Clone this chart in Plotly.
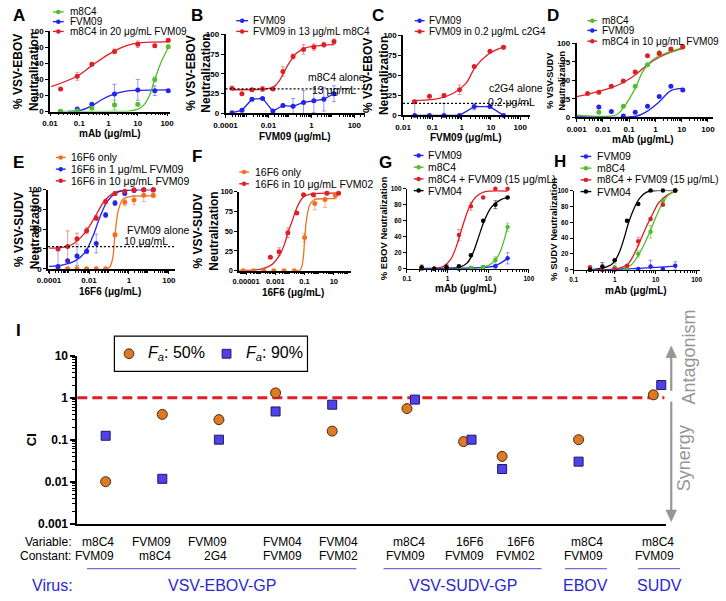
import plotly.graph_objects as go

W, H = 726, 601
FONT = "Arial, 'Liberation Sans', Helvetica, sans-serif"

GREEN = "rgb(80,190,45)"
BLUE = "rgb(35,35,240)"
RED = "rgb(222,32,38)"
ORANGE = "rgb(240,112,35)"
BLACK = "rgb(0,0,0)"
LIGHT = {GREEN: "rgba(80,190,45,0.55)", BLUE: "rgba(35,35,240,0.45)",
         RED: "rgba(222,32,38,0.45)", ORANGE: "rgba(240,112,35,0.5)", BLACK: "rgba(0,0,0,0.5)"}

# ---------------- Panel A (VSV-EBOV) ----------------
A_conc = [0.023, 0.085, 0.27, 1.6, 10, 38, 110]
A_m8c4 = [0, 1, 4, 8, 9, 40, 81]
A_m8c4_err = [0, 0, 0, 6, 2, 3, 2]
A_fvm09 = [0, 3, 9, 22, 27, 26, 26]
A_fvm09_err = [0, 0, 1, 12, 13, 6, 1]
A_mix = [28, 44, 59, 75, 84, 82, 89]
A_mix_err = [1, 5, 2, 3, 4, 2, 2]
A_m8c4_fit_x = [0.023, 1, 5, 10, 16, 25, 38, 60, 110]
A_m8c4_fit_y = [0, 0, 0.5, 3, 8, 20, 40, 60, 80]
A_fvm09_fit_x = [0.04, 0.1, 0.27, 0.6, 1.6, 4, 10, 110]
A_fvm09_fit_y = [0, 1, 7, 15, 22, 25.5, 26.5, 27]
A_mix_fit_x = [0.011, 0.083, 0.26, 1.07, 3.9, 13.5, 110]
A_mix_fit_y = [31, 44, 57, 72, 82, 86, 87]

# ---------------- Panel B ----------------
B_conc = [0.0002, 0.00058, 0.0017, 0.0053, 0.016, 0.047, 0.14, 0.43, 1.3, 3.8, 11.3]
B_fvm09 = [1, 4, 18, 19, 3, 10, 9, 14, 16, 18, 25]
B_fvm09_err = [0, 0, 0, 1, 0, 2, 10, 15, 15, 15, 10]
B_mix = [32, 25, 30, 31, 31, 53, 72, 81, 84, 87, 91]
B_mix_err = [1, 0, 1, 3, 2, 6, 3, 6, 4, 3, 3]
B_mix_fit_x = [0.0002, 0.002, 0.008, 0.018, 0.035, 0.06, 0.11, 0.2, 0.45, 1.3, 11.3]
B_mix_fit_y = [30, 30.2, 31, 34, 43, 55, 67, 76, 82, 85, 87]
B_alone = 31

# ---------------- Panel C ----------------
C_conc = [0.025, 0.08, 0.25, 0.85, 2.7, 9.3, 27]
C_fvm09 = [0, 0, 0, 0, 11, 11, 0]
C_fvm09_err = [15, 0, 15, 0, 4, 0, 0]
C_mix = [17, 24, 25, 32, 61, 80, 85]
C_mix_err = [2, 0, 2, 6, 1, 1, 2]
C_mix_fit_x = [0.02, 0.16, 0.54, 1.4, 2.9, 7.9, 18, 27]
C_mix_fit_y = [18.5, 21, 28, 40, 60, 76, 83, 85]
C_alone = 15

# ---------------- Panel D (VSV-SUDV) ----------------
D_conc = [0.0026, 0.007, 0.021, 0.06, 0.17, 0.5, 1.4, 3.9, 11]
D_m8c4 = [None, 7, None, 15, 42, 71, 87, 90, 95]
D_fvm09 = [None, 14, 8, 2, 7, 15, 28, 42, 37]
D_mix = [32, 34, 42, 49, 61, 83, 86, 92, 95]
D_m8c4_fit_x = [0.001, 0.033, 0.06, 0.17, 0.32, 0.65, 1.4, 3.9, 12]
D_m8c4_fit_y = [3, 3.5, 13, 39, 61, 75, 83, 89, 94]
D_fvm09_fit_x = [0.001, 0.18, 0.43, 1.4, 3.9, 11]
D_fvm09_fit_y = [1, 1.5, 7, 21, 36, 39]
D_mix_fit_x = [0.001, 0.0026, 0.021, 0.06, 0.17, 0.5, 1.4, 3.9, 12]
D_mix_fit_y = [28, 31, 40, 47, 57, 71, 81, 88, 93]

# ---------------- Panel E ----------------
E_conc = [0.00028, 0.00085, 0.0025, 0.0076, 0.023, 0.068, 0.2, 0.62, 1.8, 5.5, 16.6]
E_only = [0, 0, 0, 0, 0, 0, 43, 84, 87, 93, 93]
E_only_err = [0, 0, 0, 0, 0, 0, 2, 4, 6, 8, 3]
E_fvm1 = [3, 10, 16, 22, 32, 68, 83, 95, 99, 100, 100]
E_fvm1_err = [25, 0, 12, 3, 12, 3, 3, 1, 0, 0, 0]
E_fvm10 = [25, 28, 38, 48, 64, 85, 95, 98, 100, 100, 100]
E_fvm10_err = [2, 20, 7, 4, 3, 3, 2, 1, 0, 0, 0]
E_fvm10_fit_x = [0.0001, 0.0005, 0.0015, 0.004, 0.01, 0.025, 0.06, 0.15, 0.5, 16.6]
E_fvm10_fit_y = [26, 27, 31, 40, 53, 70, 86, 95, 99, 100]
E_fvm1_fit_x = [0.0001, 0.0005, 0.002, 0.006, 0.015, 0.035, 0.08, 0.2, 0.6, 16.6]
E_fvm1_fit_y = [3, 5, 10, 20, 40, 65, 85, 95, 99, 100]
E_only_fit_x = [0.05, 0.1, 0.15, 0.2, 0.3, 0.5, 1, 16.6]
E_only_fit_y = [0, 1, 12, 43, 75, 88, 91, 92]
E_alone = 28

# ---------------- Panel F ----------------
F_only_conc = [6.3e-6, 3.2e-5, 1.6e-4, 7.9e-4, 4e-3, 0.02, 0.1, 0.5, 2.5, 12.6]
F_only = [0, 0, 0, 0, 0, 0, 42, 85, 90, 95]
F_only_err = [0, 0, 0, 0, 0, 0, 5, 8, 10, 4]
F_mix_conc = [4.6e-4, 1.8e-3, 7.2e-3, 0.029, 0.085, 0.4, 3.4, 21]
F_mix = [17, 24, 48, 73, 96, 96, 98, 98]
F_mix_err = [0, 5, 6, 0, 0, 2, 1, 2]
F_mix_fit_x = [3.4e-6, 1e-4, 6e-4, 2e-3, 4.5e-3, 7.2e-3, 0.015, 0.03, 0.08, 0.3, 21]
F_mix_fit_y = [0.5, 2, 8, 20, 35, 48, 64, 80, 93, 97, 98]
F_only_fit_x = [0.02, 0.05, 0.08, 0.1, 0.15, 0.25, 0.5, 2, 12.6]
F_only_fit_y = [0, 1, 15, 40, 70, 85, 90, 91, 91]

# ---------------- Panel G (EBOV) ----------------
G_conc = [0.23, 0.47, 0.94, 1.9, 3.75, 7.5, 15, 30]
G_fvm09 = [0, 0, 0, 0, 1, 2, 3, 13]
G_fvm09_err = [0, 0, 0, 0, 0, 1, 2, 7]
G_m8c4 = [0, 0, 0, 1, 1, 2, 11, 52]
G_m8c4_err = [0, 0, 0, 3, 0, 1, 4, 5]
G_mix = [1, 0, 2, 42, 78, 89, 100, 100]
G_mix_err = [4, 0, 0, 7, 5, 0, 0, 0]
G_fvm04 = [2, 0, 2, 3, 17, 60, 80, 89]
G_fvm04_err = [0, 0, 3, 0, 0, 0, 5, 1]
G_mix_fit_x = [0.23, 0.5, 0.8, 1.2, 1.7, 2.4, 3.5, 5, 8, 30]
G_mix_fit_y = [0, 0.5, 3, 12, 30, 55, 78, 90, 96, 97]
G_fvm04_fit_x = [0.23, 1, 2, 3, 4, 6, 8, 12, 20, 30]
G_fvm04_fit_y = [0, 0.5, 2, 7, 17, 42, 60, 77, 86, 89]
G_m8c4_fit_x = [0.23, 3, 6, 10, 15, 20, 30]
G_m8c4_fit_y = [0.5, 0.5, 1.5, 4, 11, 22, 52]
G_fvm09_fit_x = [0.23, 5, 10, 15, 20, 30]
G_fvm09_fit_y = [0.5, 1, 2, 4, 7, 13]

# ---------------- Panel H (SUDV) ----------------
H_conc = [0.25, 0.5, 1, 2, 3.75, 7.5, 15, 30]
H_fvm09 = [0, 0, 0, 1, 1, 4, 1, 5]
H_fvm09_err = [0, 0, 0, 0, 0, 8, 0, 5]
H_m8c4 = [0, 0, 3, 2, 20, 48, 87, 100]
H_m8c4_err = [0, 0, 5, 0, 4, 8, 0, 0]
H_mix = [3, 0, 1, 5, 36, 64, 82, 100]
H_mix_err = [0, 0, 0, 0, 5, 0, 0, 0]
H_fvm04 = [0, 4, 12, 62, 83, 100, 100, 100]
H_fvm04_err = [0, 5, 0, 0, 0, 0, 0, 0]
H_fvm04_fit_x = [0.25, 0.5, 0.8, 1, 1.3, 1.7, 2.2, 3, 4, 6, 10, 30]
H_fvm04_fit_y = [0, 2, 6, 11, 22, 40, 60, 78, 90, 98, 100, 100]
H_mix_fit_x = [0.25, 1, 2, 3, 4, 6, 8, 12, 20, 30]
H_mix_fit_y = [0, 1, 6, 20, 34, 55, 68, 85, 95, 99]
H_m8c4_fit_x = [0.25, 1.5, 2.5, 3.75, 5, 7.5, 10, 15, 20, 30]
H_m8c4_fit_y = [0, 1, 6, 18, 30, 50, 66, 85, 94, 99]
H_fvm09_fit_x = [0.25, 1, 5, 10, 20, 30]
H_fvm09_fit_y = [0, 0.5, 2, 3, 4, 5]

# ---------------- Panel I (combination index) ----------------
I_variable = ["m8C4", "FVM09", "FVM09", "FVM04", "FVM04", "m8C4", "16F6", "16F6", "m8C4", "m8C4"]
I_constant = ["FVM09", "m8C4", "2G4", "FVM09", "FVM02", "FVM09", "FVM09", "FVM02", "FVM09", "FVM09"]
I_slot = [0.5, 1.5, 2.5, 3.5, 4.5, 5.89, 6.89, 7.5, 8.85, 10.24]
I_dodge = [0, 0, 0, 0, 0, 0.07, 0.07, 0, 0, 0.07]
I_fa50 = [0.01, 0.4, 0.3, 1.3, 0.16, 0.55, 0.09, 0.04, 0.1, 1.17]
I_fa90 = [0.124, 0.0117, 0.1, 0.47, 0.68, 0.9, 0.1, 0.02, 0.03, 2.0]
I_viruses = ["VSV-EBOV-GP", "VSV-SUDV-GP", "EBOV", "SUDV"]

fig = go.Figure()
shapes = []
anns = []


def fx(x):
    return x / W


def fy(y):
    return 1 - y / H


def aid(n):
    return ("x", "y") if n == 1 else (f"x{n}", f"y{n}")


def lkey(n):
    return ("xaxis", "yaxis") if n == 1 else (f"xaxis{n}", f"yaxis{n}")


def ann(x, y, text, size=11, color="black", xanchor="center", yanchor="middle", angle=0, bold=False):
    if bold:
        text = f"<b>{text}</b>"
    anns.append(dict(x=fx(x), y=fy(y), xref="paper", yref="paper", text=text, showarrow=False,
                     xanchor=xanchor, yanchor=yanchor, textangle=angle,
                     font=dict(family=FONT, size=size, color=color)))


def legend_item(x0, x1, xt, y, color, text, size=10.5):
    shapes.append(dict(type="line", xref="paper", yref="paper", x0=fx(x0), x1=fx(x1), y0=fy(y), y1=fy(y),
                       line=dict(color=color, width=1.4)))
    xc = (x0 + x1) / 2
    r = 2.3
    shapes.append(dict(type="circle", xref="paper", yref="paper", x0=fx(xc - r), x1=fx(xc + r),
                       y0=fy(y + r), y1=fy(y - r), fillcolor=color, line=dict(color=color, width=0)))
    ann(xt, y, text, size=size, xanchor="left")


def log_minor(lo, hi):
    out = []
    for k in range(lo, hi + 1):
        for m in range(2, 10):
            out.append(m * 10 ** k)
    return out


def fmt(v):
    return f"{v:.6f}".rstrip("0").rstrip(".")


def setup_panel(n, xpx, ypx, xr, xt, yt, tfs=8, tl=3, lw=1.5):
    xa, ya = lkey(n)
    xi, yi = aid(n)
    fig.layout[xa] = dict(domain=[fx(xpx[0]), fx(xpx[1])], type="log", range=list(xr), anchor=yi,
                          showline=True, linecolor="black", linewidth=lw, ticks="outside", ticklen=tl,
                          tickwidth=1.2, tickcolor="black", tickvals=xt, ticktext=[fmt(v) for v in xt],
                          tickangle=0,
                          tickfont=dict(family=FONT, size=tfs, color="black", weight="bold"),
                          showgrid=False, zeroline=False,
                          minor=dict(ticks="outside", ticklen=2, tickwidth=1, tickcolor="black",
                                     tickvals=log_minor(-7, 2), showgrid=False))
    fig.layout[ya] = dict(domain=[fy(ypx[1]), fy(ypx[0])], range=[0, 100], anchor=xi,
                          showline=True, linecolor="black", linewidth=lw, ticks="outside", ticklen=tl,
                          tickwidth=1.2, tickcolor="black", tickvals=yt,
                          tickfont=dict(family=FONT, size=tfs, color="black", weight="bold"),
                          showgrid=False, zeroline=False)


def pts(n, x, y, color, err=None, size=5):
    xi, yi = aid(n)
    tr = go.Scatter(x=x, y=y, mode="markers", xaxis=xi, yaxis=yi, showlegend=False, cliponaxis=False,
                    marker=dict(color=color, size=size, symbol="circle"))
    if err is not None:
        tr.error_y = dict(type="data", array=err, visible=True, color=LIGHT[color], thickness=1, width=2)
    fig.add_trace(tr)


def fitline(n, x, y, color, width=1.3):
    xi, yi = aid(n)
    fig.add_trace(go.Scatter(x=x, y=y, mode="lines", xaxis=xi, yaxis=yi, showlegend=False,
                             line=dict(color=color, width=width, shape="spline", smoothing=1.0)))


def polyline(n, x, y, color, err=None):
    xi, yi = aid(n)
    tr = go.Scatter(x=x, y=y, mode="lines+markers", xaxis=xi, yaxis=yi, showlegend=False, cliponaxis=False,
                    connectgaps=True, line=dict(color=color, width=1.3), marker=dict(color=color, size=5))
    if err is not None:
        tr.error_y = dict(type="data", array=err, visible=True, color=LIGHT[color], thickness=1, width=2)
    fig.add_trace(tr)


def hdotted(n, yval, xpx):
    xi, yi = aid(n)
    shapes.append(dict(type="line", xref="paper", yref=yi, x0=fx(xpx[0]), x1=fx(xpx[1]), y0=yval, y1=yval,
                       line=dict(color="black", width=1.3, dash="2px,2px")))


# ---- Panel A
setup_panel(1, (39, 162), (25, 107), (-2, 2.1), [0.01, 0.1, 1, 10, 100], [0, 20, 40, 60, 80, 100])
fitline(1, A_mix_fit_x, A_mix_fit_y, RED)
fitline(1, A_fvm09_fit_x, A_fvm09_fit_y, BLUE)
fitline(1, A_m8c4_fit_x, A_m8c4_fit_y, GREEN)
pts(1, A_conc, A_fvm09, BLUE, A_fvm09_err)
pts(1, A_conc, A_m8c4, GREEN, A_m8c4_err)
pts(1, A_conc, A_mix, RED, A_mix_err)
legend_item(42, 53, 57, 5, GREEN, "m8C4", size=10)
legend_item(42, 53, 57, 15, BLUE, "FVM09", size=10)
legend_item(42, 53, 57, 25, RED, "m8C4 in 20 μg/mL FVM09", size=10)
ann(7, 9, "A", size=17, bold=True)
ann(15, 66, "% VSV-EBOV<br>Neutralization", size=12, angle=-90, bold=True)
ann(100, 129.5, "mAb (μg/mL)", size=10, bold=True)

# ---- Panel B
setup_panel(2, (219, 362), (28, 109), (-4, 2.5), [0.0001, 0.01, 1, 100], [0, 25, 50, 75, 100])
hdotted(2, B_alone, (219, 362))
polyline(2, B_conc, B_fvm09, BLUE, B_fvm09_err)
fitline(2, B_mix_fit_x, B_mix_fit_y, RED)
pts(2, B_conc, B_mix, RED, B_mix_err)
legend_item(230, 242, 245, 14, BLUE, "FVM09", size=10)
legend_item(230, 242, 245, 25, RED, "FVM09 in 13 μg/mL m8C4", size=10)
ann(190, 9, "B", size=17, bold=True)
ann(192, 68, "% VSV-EBOV<br>Neutralization", size=12, angle=-90, bold=True)
ann(290, 132.5, "FVM09 (μg/mL)", size=10, bold=True)
ann(333, 72, "m8C4 alone", size=10.5)
ann(330, 85, "13 μg/mL", size=10.5)

# ---- Panel C
setup_panel(3, (401, 531), (29, 111), (-2, 2.33), [0.01, 0.1, 1, 10, 100], [0, 25, 50, 75, 100])
hdotted(3, C_alone, (401, 531))
polyline(3, C_conc, C_fvm09, BLUE, C_fvm09_err)
fitline(3, C_mix_fit_x, C_mix_fit_y, RED)
pts(3, C_conc, C_mix, RED, C_mix_err)
legend_item(413, 423, 426, 14, BLUE, "FVM09", size=10)
legend_item(413, 423, 426, 25, RED, "FVM09 in 0.2 μg/mL c2G4", size=10)
ann(375, 9, "C", size=17, bold=True)
ann(374, 70, "% VSV-EBOV<br>Neutralization", size=12, angle=-90, bold=True)
ann(466, 133.5, "FVM09 (μg/mL)", size=10, bold=True)
ann(517, 83, "c2G4 alone", size=10.5)
ann(512, 97, "0.2 μg/mL", size=10.5)

# ---- Panel D
setup_panel(4, (579, 719), (37, 113), (-3, 2.2), [0.001, 0.01, 0.1, 1, 10, 100], [0, 25, 50, 75, 100])
fitline(4, D_mix_fit_x, D_mix_fit_y, RED)
fitline(4, D_m8c4_fit_x, D_m8c4_fit_y, GREEN)
fitline(4, D_fvm09_fit_x, D_fvm09_fit_y, BLUE)
pts(4, D_conc, D_fvm09, BLUE)
pts(4, D_conc, D_m8c4, GREEN)
pts(4, D_conc, D_mix, RED)
legend_item(590, 600, 603, 14, GREEN, "m8C4", size=10)
legend_item(590, 600, 603, 24, BLUE, "FVM09", size=10)
legend_item(590, 600, 603, 35, RED, "m8C4 in 10 μg/mL FVM09", size=10)
ann(555, 9, "D", size=17, bold=True)
ann(558, 75, "% VSV-SUDV<br>Neutralization", size=9, angle=-90, bold=True)
ann(647, 135.5, "mAb (μg/mL)", size=10, bold=True)

# ---- Panel E
setup_panel(5, (37, 167), (187, 268), (-4.05, 2.3), [0.0001, 0.01, 1, 100], [0, 25, 50, 75, 100])
hdotted(5, E_alone, (37, 167))
fitline(5, E_fvm10_fit_x, E_fvm10_fit_y, RED)
fitline(5, E_fvm1_fit_x, E_fvm1_fit_y, BLUE)
fitline(5, E_only_fit_x, E_only_fit_y, ORANGE)
pts(5, E_conc, E_only, ORANGE, E_only_err)
pts(5, E_conc, E_fvm1, BLUE, E_fvm1_err)
pts(5, E_conc, E_fvm10, RED, E_fvm10_err)
legend_item(45, 55, 58, 154, ORANGE, "16F6 only")
legend_item(45, 55, 58, 166, BLUE, "16F6 in 1 μg/mL FVM09")
legend_item(45, 55, 58, 178, RED, "16F6 in 10 μg/mL FVM09")
ann(7, 159, "E", size=17, bold=True)
ann(15, 228, "% VSV-SUDV<br>Neutralization", size=12, angle=-90, bold=True)
ann(100, 291, "16F6 (μg/mL)", size=10, bold=True)
ann(150, 228, "FVM09 alone", size=10.5)
ann(137, 240, "10 μg/mL", size=10.5)

# ---- Panel F
setup_panel(6, (233, 348), (189, 270), (-5.47, 2.2), [0.00001, 0.001, 0.1, 10], [0, 25, 50, 75, 100], tfs=7.5)
fitline(6, F_mix_fit_x, F_mix_fit_y, RED)
fitline(6, F_only_fit_x, F_only_fit_y, ORANGE)
pts(6, F_only_conc, F_only, ORANGE, F_only_err)
pts(6, F_mix_conc, F_mix, RED, F_mix_err)
legend_item(233, 243, 247, 169, ORANGE, "16F6 only")
legend_item(233, 243, 247, 181, RED, "16F6 in 10 μg/mL FVM02")
ann(190, 153, "F", size=17, bold=True)
ann(199, 230, "% VSV-SUDV<br>Neutralization", size=12, angle=-90, bold=True)
ann(288, 292, "16F6 (μg/mL)", size=10, bold=True)

# ---- Panel G
setup_panel(7, (405, 530), (186, 268), (-1, 2), [0.1, 1, 10, 100], [0, 20, 40, 60, 80, 100], tfs=6.5, tl=3, lw=1.2)
fitline(7, G_mix_fit_x, G_mix_fit_y, RED)
fitline(7, G_fvm04_fit_x, G_fvm04_fit_y, BLACK)
fitline(7, G_m8c4_fit_x, G_m8c4_fit_y, GREEN)
fitline(7, G_fvm09_fit_x, G_fvm09_fit_y, BLUE)
pts(7, G_conc, G_fvm09, BLUE, G_fvm09_err, size=4.5)
pts(7, G_conc, G_m8c4, GREEN, G_m8c4_err, size=4.5)
pts(7, G_conc, G_mix, RED, G_mix_err, size=4.5)
pts(7, G_conc, G_fvm04, BLACK, G_fvm04_err, size=4.5)
legend_item(412, 422, 425, 152, BLUE, "FVM09")
legend_item(412, 422, 425, 164, GREEN, "m8C4")
legend_item(412, 422, 425, 176, RED, "m8C4 + FVM09 (15 μg/mL)")
legend_item(412, 422, 425, 188, BLACK, "FVM04")
ann(383, 159, "G", size=17, bold=True)
ann(381, 227, "% EBOV Neutralization", size=9.5, angle=-90, bold=True)
ann(466, 288, "mAb (μg/mL)", size=10, bold=True)

# ---- Panel H
setup_panel(8, (576, 705), (188, 269), (-1, 2.07), [0.1, 1, 10, 100], [0, 20, 40, 60, 80, 100], tfs=6.5, tl=3, lw=1.2)
fitline(8, H_fvm04_fit_x, H_fvm04_fit_y, BLACK)
fitline(8, H_mix_fit_x, H_mix_fit_y, RED)
fitline(8, H_m8c4_fit_x, H_m8c4_fit_y, GREEN)
fitline(8, H_fvm09_fit_x, H_fvm09_fit_y, BLUE)
pts(8, H_conc, H_fvm09, BLUE, H_fvm09_err, size=4.5)
pts(8, H_conc, H_m8c4, GREEN, H_m8c4_err, size=4.5)
pts(8, H_conc, H_mix, RED, H_mix_err, size=4.5)
pts(8, H_conc, H_fvm04, BLACK, H_fvm04_err, size=4.5)
legend_item(583, 594, 598, 153, BLUE, "FVM09")
legend_item(583, 594, 598, 165, GREEN, "m8C4")
legend_item(583, 594, 598, 177, RED, "m8C4 + FVM09 (15 μg/mL)", size=10)
legend_item(583, 594, 598, 189, BLACK, "FVM04")
ann(562, 158, "H", size=17, bold=True)
ann(555, 228, "% SUDV Neutralization", size=9.5, angle=-90, bold=True)
ann(640, 290, "mAb (μg/mL)", size=10, bold=True)

# ---- Panel I
fig.layout["xaxis9"] = dict(domain=[fx(67), fx(671)], range=[0, 10.4], anchor="y9", showline=True,
                            linecolor="black", linewidth=1.6, showticklabels=False, ticks="",
                            showgrid=False, zeroline=False)
fig.layout["yaxis9"] = dict(domain=[fy(529), fy(357)], type="log", range=[-3, 1], anchor="x9", showline=True,
                            linecolor="black", linewidth=1.8, ticks="outside", ticklen=5, tickwidth=1.5,
                            tickcolor="black", tickvals=[0.001, 0.01, 0.1, 1, 10],
                            ticktext=["0.001", "0.01", "0.1", "1", "10"],
                            tickfont=dict(family=FONT, size=12, color="black", weight="bold"),
                            showgrid=False, zeroline=False,
                            minor=dict(ticks="outside", ticklen=3, tickwidth=1, tickcolor="black",
                                       tickvals=log_minor(-3, 0), showgrid=False))
shapes.append(dict(type="line", xref="paper", yref="y9", x0=fx(67), x1=fx(669), y0=1, y1=1,
                   line=dict(color="rgb(225,30,35)", width=3, dash="10px,5px"), layer="below"))
fa50_x = [s - d for s, d in zip(I_slot, I_dodge)]
fa90_x = [s + d for s, d in zip(I_slot, I_dodge)]
fig.add_trace(go.Scatter(x=fa50_x, y=I_fa50, mode="markers", xaxis="x9", yaxis="y9", showlegend=False,
                         cliponaxis=False,
                         marker=dict(symbol="circle", size=10, color="rgb(222,122,35)",
                                     line=dict(color="rgb(70,45,20)", width=1))))
fig.add_trace(go.Scatter(x=fa90_x, y=I_fa90, mode="markers", xaxis="x9", yaxis="y9", showlegend=False,
                         cliponaxis=False,
                         marker=dict(symbol="square", size=9, color="rgb(80,65,235)",
                                     line=dict(color="rgb(30,25,90)", width=1))))

shapes.append(dict(type="rect", xref="paper", yref="paper", x0=fx(105), x1=fx(303), y0=fy(373), y1=fy(337),
                   line=dict(color="black", width=1.2), fillcolor="white"))
shapes.append(dict(type="circle", xref="paper", yref="paper", x0=fx(115), x1=fx(125), y0=fy(360), y1=fy(350),
                   fillcolor="rgb(222,122,35)", line=dict(color="rgb(70,45,20)", width=1)))
shapes.append(dict(type="rect", xref="paper", yref="paper", x0=fx(215.5), x1=fx(224.5), y0=fy(359.5), y1=fy(350.5),
                   fillcolor="rgb(80,65,235)", line=dict(color="rgb(30,25,90)", width=1)))
ann(137, 355, "<i>F</i><sub><i>a</i></sub>: 50%", size=16, xanchor="left")
ann(238, 355, "<i>F</i><sub><i>a</i></sub>: 90%", size=16, xanchor="left")

ann(7, 331, "I", size=17, bold=True)
ann(20, 443, "CI", size=13, angle=-90, bold=True)

right_edges = [107, 165, 223, 299, 357, 426, 486, 538, 608, 681]
for v, c, r in zip(I_variable, I_constant, right_edges):
    ann(r, 548, v, size=12, xanchor="right")
    ann(r, 562, c, size=12, xanchor="right")
ann(63, 548, "Variable:", size=12, xanchor="right")
ann(63, 562, "Constant:", size=12, xanchor="right")

VBLUE = "rgb(40,40,210)"
under = [(77, 353), (381, 543), (567, 610), (642, 685)]
for (x0, x1), name in zip(under, I_viruses):
    shapes.append(dict(type="line", xref="paper", yref="paper", x0=fx(x0), x1=fx(x1), y0=fy(575), y1=fy(575),
                       line=dict(color="rgb(110,110,225)", width=1.2)))
    ann((x0 + x1) / 2, 592, name, size=16, color=VBLUE)
ann(42, 592, "Virus:", size=16, color=VBLUE)

GRAY = "rgb(150,150,150)"


def ppath(points):
    return "M " + " L ".join(f"{fx(a):.5f},{fy(b):.5f}" for a, b in points) + " Z"


shapes.append(dict(type="line", xref="paper", yref="paper", x0=fx(676), x1=fx(676), y0=fy(393), y1=fy(356),
                   line=dict(color=GRAY, width=2.2)))
shapes.append(dict(type="path", xref="paper", yref="paper", path=ppath([(670.5, 359), (676, 347), (681.5, 359)]),
                   fillcolor=GRAY, line=dict(color=GRAY, width=0.5)))
shapes.append(dict(type="line", xref="paper", yref="paper", x0=fx(676), x1=fx(676), y0=fy(404), y1=fy(517),
                   line=dict(color=GRAY, width=2.2)))
shapes.append(dict(type="path", xref="paper", yref="paper", path=ppath([(670.5, 515), (676, 527), (681.5, 515)]),
                   fillcolor=GRAY, line=dict(color=GRAY, width=0.5)))
ann(694, 358, "Antagonism", size=18, color=GRAY, angle=-90)
ann(689, 462, "Synergy", size=18, color=GRAY, angle=-90)

fig.update_layout(width=W, height=H, margin=dict(l=0, r=0, t=0, b=0), autosize=False,
                  paper_bgcolor="white", plot_bgcolor="white", showlegend=False,
                  shapes=shapes, annotations=anns, font=dict(family=FONT, color="black"))
fig.write_html("out.html", config={"displayModeBar": False},
               post_script="document.body.style.margin='0';document.body.style.padding='0';"
                           "document.body.style.overflow='hidden';")
